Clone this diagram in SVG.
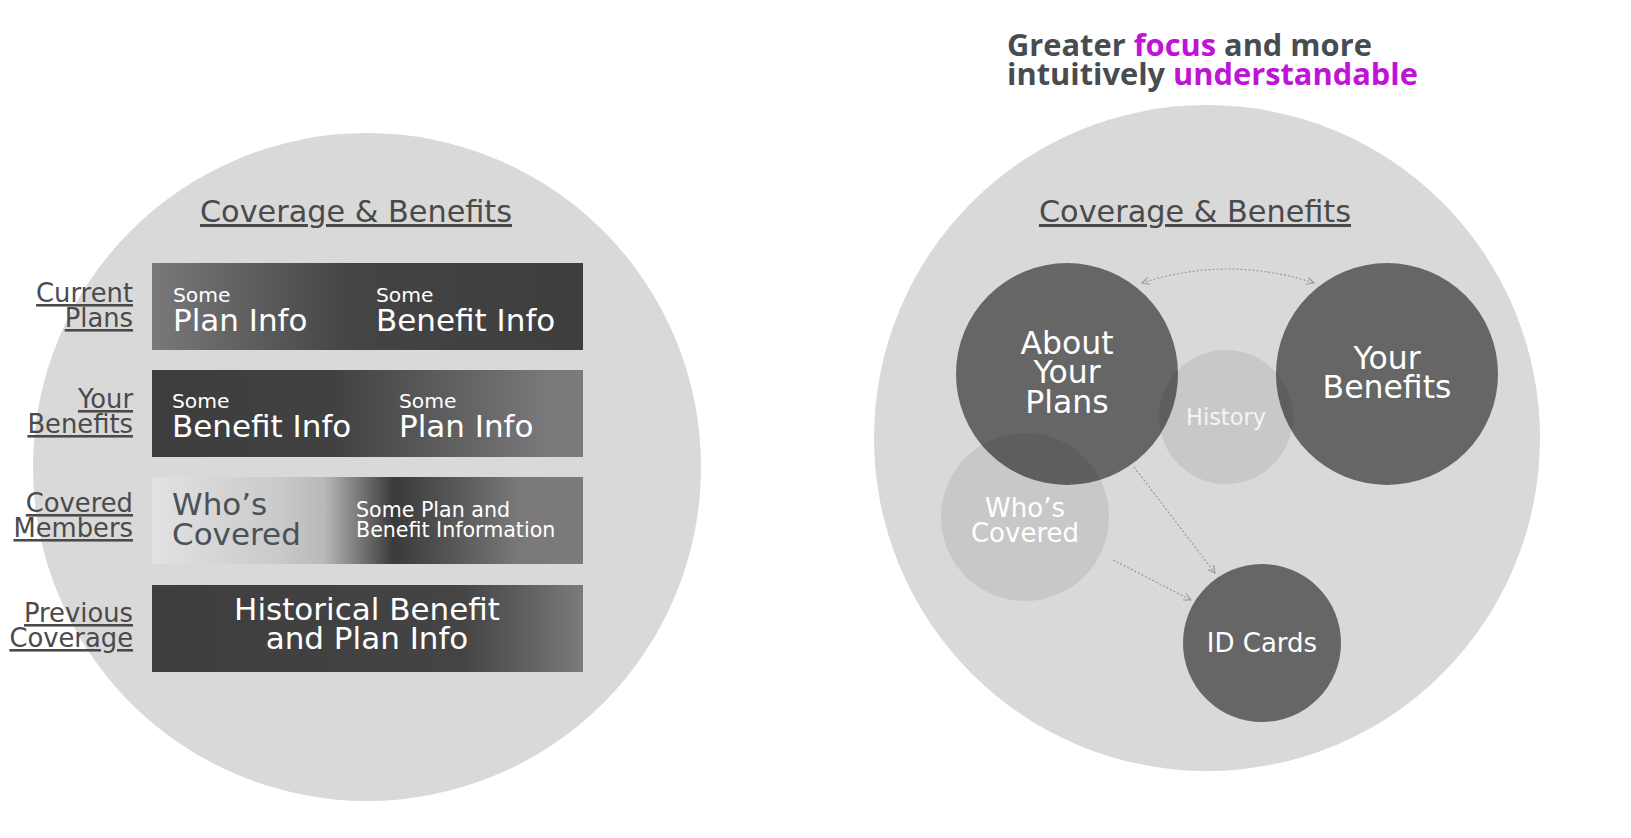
<svg xmlns="http://www.w3.org/2000/svg" width="1631" height="838" viewBox="0 0 1631 838">
<style>
.t{font-family:"DejaVu Sans","Liberation Sans",sans-serif;}
.title{font-size:30.3px;fill:#4a4a4a;text-decoration:underline;text-anchor:middle;}
.lbl{font-size:25.8px;fill:#4a4a4a;text-decoration:underline;text-anchor:end;}
.sm{font-size:20.3px;fill:#ffffff;}
.big{font-size:31px;fill:#ffffff;}
.hdr{font-family:"Open Sans","Liberation Sans",sans-serif;font-weight:700;font-size:30.8px;fill:#474c51;}
.mag{fill:#c013d8;}
.cn{font-size:31.5px;fill:#ffffff;text-anchor:middle;}
.cs{font-size:26px;fill:#ffffff;text-anchor:middle;}
.conn{fill:none;stroke:#9a9a9a;stroke-width:1.2;stroke-dasharray:2 2;}
</style>
<defs>
<linearGradient id="g1" x1="0" x2="1" y1="0" y2="0">
<stop offset="0" stop-color="#7a787a"/><stop offset="0.46" stop-color="#444444"/><stop offset="1" stop-color="#3e3e3e"/>
</linearGradient>
<linearGradient id="g2" x1="0" x2="1" y1="0" y2="0">
<stop offset="0" stop-color="#3d3d3d"/><stop offset="0.42" stop-color="#414141"/><stop offset="0.92" stop-color="#7a787a"/><stop offset="1" stop-color="#7c7a7c"/>
</linearGradient>
<linearGradient id="g3" x1="0" x2="1" y1="0" y2="0">
<stop offset="0" stop-color="#e2e2e2"/><stop offset="0.3" stop-color="#c9c9c9"/><stop offset="0.4" stop-color="#b8b8b8"/><stop offset="0.56" stop-color="#3a3a3a"/><stop offset="0.68" stop-color="#535353"/><stop offset="0.85" stop-color="#7a787a"/><stop offset="1" stop-color="#7c7a7c"/>
</linearGradient>
<linearGradient id="g4" x1="0" x2="1" y1="0" y2="0">
<stop offset="0" stop-color="#3e3e3e"/><stop offset="0.72" stop-color="#444444"/><stop offset="1" stop-color="#7c7a7c"/>
</linearGradient>
<marker id="ah" viewBox="0 0 10 10" refX="9" refY="5" markerWidth="9" markerHeight="9" markerUnits="userSpaceOnUse" orient="auto-start-reverse">
<path d="M1 1 L9 5 L1 9" fill="none" stroke="#9a9a9a" stroke-width="1.2"/>
</marker>
</defs>
<rect width="1631" height="838" fill="#ffffff"/>

<g id="left-panel">
<circle cx="367" cy="467" r="334" fill="#d9d9d9"/>
<text class="t title" x="356" y="222">Coverage &amp; Benefits</text>
</g>

<g id="row-current-plans">
<text class="t lbl" x="133" y="302">Current</text>
<text class="t lbl" x="133" y="327">Plans</text>
<rect x="152" y="263" width="431" height="87" fill="url(#g1)"/>
<text class="t sm" x="173" y="302">Some</text>
<text class="t big" x="173" y="331">Plan Info</text>
<text class="t sm" x="376" y="302">Some</text>
<text class="t big" x="376" y="331">Benefit Info</text>
</g>

<g id="row-your-benefits">
<text class="t lbl" x="133" y="408">Your</text>
<text class="t lbl" x="133" y="433">Benefits</text>
<rect x="152" y="370" width="431" height="87" fill="url(#g2)"/>
<text class="t sm" x="172" y="408">Some</text>
<text class="t big" x="172" y="437">Benefit Info</text>
<text class="t sm" x="399" y="408">Some</text>
<text class="t big" x="399" y="437">Plan Info</text>
</g>

<g id="row-covered-members">
<text class="t lbl" x="133" y="512">Covered</text>
<text class="t lbl" x="133" y="537">Members</text>
<rect x="152" y="477" width="431" height="87" fill="url(#g3)"/>
<text class="t big" x="172" y="515" style="fill:#4b5157">Who’s</text>
<text class="t big" x="172" y="545" style="fill:#4b5157">Covered</text>
<text class="t" x="356" y="517" style="font-size:20.6px;fill:#ffffff">Some Plan and</text>
<text class="t" x="356" y="537" style="font-size:20.6px;fill:#ffffff">Benefit Information</text>
</g>

<g id="row-previous-coverage">
<text class="t lbl" x="133" y="622">Previous</text>
<text class="t lbl" x="133" y="647">Coverage</text>
<rect x="152" y="585" width="431" height="87" fill="url(#g4)"/>
<text class="t big" x="367" y="620" text-anchor="middle">Historical Benefit</text>
<text class="t big" x="367" y="649" text-anchor="middle">and Plan Info</text>
</g>

<g id="header">
<text class="hdr" x="1007" y="56">Greater <tspan class="mag">focus</tspan> and more</text>
<text class="hdr" x="1007" y="85">intuitively <tspan class="mag">understandable</tspan></text>
</g>

<g id="right-panel">
<circle cx="1207" cy="438" r="333" fill="#d9d9d9"/>
<text class="t title" x="1195" y="222">Coverage &amp; Benefits</text>
</g>

<g id="node-about-your-plans">
<circle cx="1067" cy="374" r="111" fill="#666666"/>
<text class="t cn" x="1067" y="354">About</text>
<text class="t cn" x="1067" y="383">Your</text>
<text class="t cn" x="1067" y="413">Plans</text>
</g>

<g id="node-your-benefits">
<circle cx="1387" cy="374" r="111" fill="#666666"/>
<text class="t cn" x="1387" y="369">Your</text>
<text class="t cn" x="1387" y="398">Benefits</text>
</g>

<g id="node-history">
<circle cx="1226" cy="417" r="67" fill="#000000" fill-opacity="0.08"/>
<text class="t" x="1226" y="425" text-anchor="middle" style="font-size:22.5px;fill:#f4f4f4">History</text>
</g>

<g id="node-whos-covered">
<circle cx="1025" cy="517" r="84" fill="#000000" fill-opacity="0.08"/>
<text class="t cs" x="1025" y="517">Who’s</text>
<text class="t cs" x="1025" y="542">Covered</text>
</g>

<g id="node-id-cards">
<circle cx="1262" cy="643" r="79" fill="#666666"/>
<text class="t cs" x="1262" y="652">ID Cards</text>
</g>

<g id="connectors">
<path class="conn" d="M1142 283 Q1228 255 1314 283" marker-start="url(#ah)" marker-end="url(#ah)"/>
<path class="conn" d="M1134 467 L1215 573" marker-end="url(#ah)"/>
<path class="conn" d="M1113 560 L1191 600" marker-end="url(#ah)"/>
</g>
</svg>
